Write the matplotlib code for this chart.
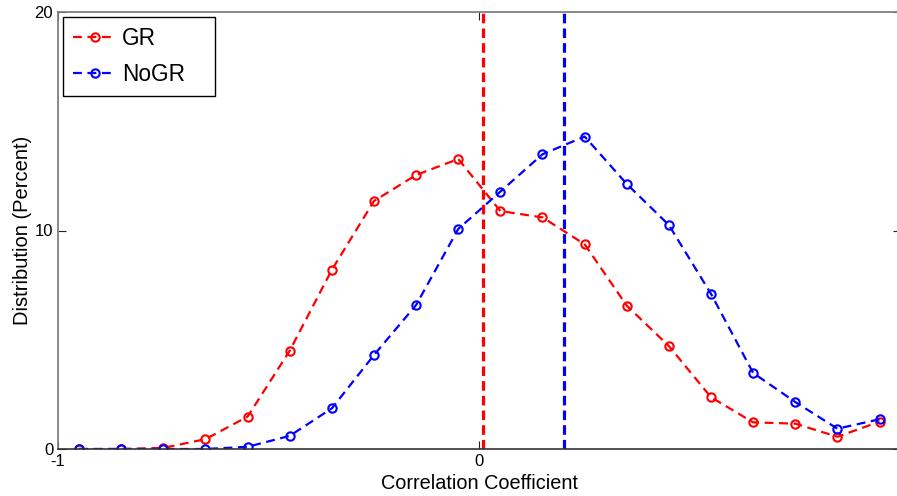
import numpy as np
import matplotlib
matplotlib.use("Agg")
from matplotlib import pyplot as plt

# bin centres of the correlation coefficient histogram
bins = [-0.95, -0.85, -0.75, -0.65, -0.55, -0.45, -0.35, -0.25, -0.15, -0.05,
        0.05, 0.15, 0.25, 0.35, 0.45, 0.55, 0.65, 0.75, 0.85, 0.95]

# distribution in percent
gr = [0.0, 0.0, 0.05, 0.45, 1.48, 4.5, 8.2, 11.35, 12.54, 13.27,
      10.89, 10.6, 9.37, 6.56, 4.71, 2.37, 1.22, 1.16, 0.56, 1.25]
nogr = [0.0, 0.0, 0.0, 0.0, 0.1, 0.6, 1.86, 4.3, 6.59, 10.07,
        11.78, 13.49, 14.3, 12.13, 10.25, 7.1, 3.48, 2.15, 0.93, 1.36]

# mean values shown as vertical lines
gr_mean = 0.008
nogr_mean = 0.202

plt.rcParams['font.family'] = ['Liberation Sans', 'DejaVu Sans']
plt.rcParams['axes.unicode_minus'] = False

fig = plt.figure(figsize=(8.97, 4.96), dpi=100)
ax = fig.add_axes([58 / 897, 47 / 496, 842.6 / 897, 437 / 496])

ax.plot(bins, gr, color='red', ls='--', lw=1.6, marker='o', ms=6,
        mfc='none', mew=1.5, dashes=(4, 2.5), label='GR')
ax.plot(bins, nogr, color='blue', ls='--', lw=1.6, marker='o', ms=6,
        mfc='none', mew=1.5, dashes=(4, 2.5), label='NoGR')

ax.axvline(gr_mean, color='red', ls='--', lw=2.3, dashes=(3, 1.6))
ax.axvline(nogr_mean, color='blue', ls='--', lw=2.3, dashes=(3, 1.6))

ax.set_xlim(-1, 1)
ax.set_ylim(0, 20)
# x = 1 lies just past the right edge of the picture, so only -1 and 0 show
ax.set_xticks([-1, 0])
ax.set_yticks([0, 10, 20])
ax.tick_params(direction='in', length=6, width=0.8, labelsize=12,
               top=True, right=True, colors='#222222')
ax.tick_params(axis='both', labelcolor='black')

for s in ['left', 'top', 'right']:
    ax.spines[s].set_color('#808080')
    ax.spines[s].set_linewidth(1.3)
ax.spines['bottom'].set_color('#333333')
ax.spines['bottom'].set_linewidth(1.2)

ax.set_xlabel('Correlation Coefficient', fontsize=14.3, labelpad=4)
ax.set_ylabel('Distribution (Percent)', fontsize=14.5, labelpad=2)

leg = ax.legend(loc='upper left', bbox_to_anchor=(0.006, 0.0, 0.1804, 0.989),
                mode='expand', borderaxespad=0, fontsize=16.3,
                handlelength=1.9, handletextpad=0.25, labelspacing=0.58,
                fancybox=False, framealpha=1, edgecolor='black',
                borderpad=0.45)
leg.get_frame().set_linewidth(1.0)

fig.savefig('out.png', dpi=100)
